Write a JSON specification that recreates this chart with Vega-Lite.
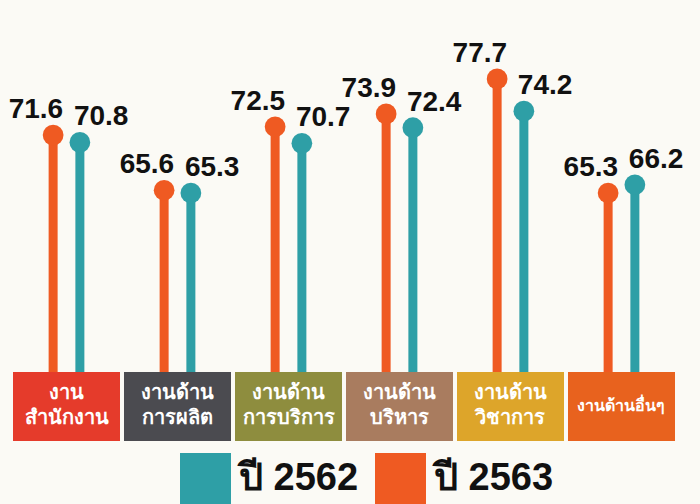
{
  "$schema": "https://vega.github.io/schema/vega-lite/v6.json",
  "width": 662,
  "height": 441,
  "autosize": {"type": "none"},
  "padding": {"left": 13, "top": 0, "right": 25, "bottom": 63},
  "background": "#FBFAF5",
  "config": {"view": {"stroke": null}},
  "datasets": {
    "scores": [
      {"cat": "งานสำนักงาน", "year": "ปี 2563", "value": 71.6},
      {"cat": "งานสำนักงาน", "year": "ปี 2562", "value": 70.8},
      {"cat": "งานด้านการผลิต", "year": "ปี 2563", "value": 65.6},
      {"cat": "งานด้านการผลิต", "year": "ปี 2562", "value": 65.3},
      {"cat": "งานด้านการบริการ", "year": "ปี 2563", "value": 72.5},
      {"cat": "งานด้านการบริการ", "year": "ปี 2562", "value": 70.7},
      {"cat": "งานด้านบริหาร", "year": "ปี 2563", "value": 73.9},
      {"cat": "งานด้านบริหาร", "year": "ปี 2562", "value": 72.4},
      {"cat": "งานด้านวิชาการ", "year": "ปี 2563", "value": 77.7},
      {"cat": "งานด้านวิชาการ", "year": "ปี 2562", "value": 74.2},
      {"cat": "งานด้านอื่นๆ", "year": "ปี 2563", "value": 65.3},
      {"cat": "งานด้านอื่นๆ", "year": "ปี 2562", "value": 66.2}
    ],
    "cats": [
      {"cat": "งานสำนักงาน", "label": "งาน\nสำนักงาน"},
      {"cat": "งานด้านการผลิต", "label": "งานด้าน\nการผลิต"},
      {"cat": "งานด้านการบริการ", "label": "งานด้าน\nการบริการ"},
      {"cat": "งานด้านบริหาร", "label": "งานด้าน\nบริหาร"},
      {"cat": "งานด้านวิชาการ", "label": "งานด้าน\nวิชาการ"},
      {"cat": "งานด้านอื่นๆ", "label": "งานด้านอื่นๆ"}
    ]
  },
  "encoding": {
    "x": {
      "field": "cat",
      "type": "nominal",
      "axis": null,
      "scale": {
        "domain": ["งานสำนักงาน", "งานด้านการผลิต", "งานด้านการบริการ", "งานด้านบริหาร", "งานด้านวิชาการ", "งานด้านอื่นๆ"],
        "paddingInner": 0.036,
        "paddingOuter": 0
      }
    }
  },
  "layer": [
    {
      "data": {"name": "scores"},
      "mark": {"type": "rule", "strokeWidth": 9},
      "encoding": {
        "xOffset": {"field": "year", "type": "nominal", "scale": {"domain": ["ปี 2563", "ปี 2562"], "paddingOuter": 1.058, "paddingInner": 0}},
        "y": {"field": "value", "type": "quantitative", "axis": null, "scale": {"domain": [38.35, 86.28], "zero": false, "nice": false}},
        "y2": {"datum": 40},
        "color": {
          "field": "year",
          "type": "nominal",
          "scale": {"domain": ["ปี 2562", "ปี 2563"], "range": ["#2E9FA6", "#EF5A22"]},
          "legend": {
            "orient": "none",
            "legendX": 167,
            "legendY": 453,
            "direction": "horizontal",
            "title": null,
            "padding": 0,
            "symbolType": "square",
            "symbolSize": 2600,
            "symbolStrokeWidth": 0,
            "symbolOpacity": 1,
            "labelFont": "Liberation Sans",
            "labelFontWeight": "bold",
            "labelFontSize": 38,
            "labelColor": "#111111",
            "labelOffset": 8,
            "columnPadding": 16,
            "labelLimit": 300
          }
        }
      }
    },
    {
      "data": {"name": "scores"},
      "mark": {"type": "point", "filled": true, "shape": "circle", "size": 430, "opacity": 1},
      "encoding": {
        "xOffset": {"field": "year", "type": "nominal", "scale": {"domain": ["ปี 2563", "ปี 2562"], "paddingOuter": 1.058, "paddingInner": 0}},
        "y": {"field": "value", "type": "quantitative"},
        "color": {
          "field": "year",
          "type": "nominal",
          "legend": {
            "orient": "none",
            "legendX": 167,
            "legendY": 453,
            "direction": "horizontal",
            "title": null,
            "padding": 0,
            "symbolType": "square",
            "symbolSize": 2600,
            "symbolStrokeWidth": 0,
            "symbolOpacity": 1,
            "labelFont": "Liberation Sans",
            "labelFontWeight": "bold",
            "labelFontSize": 38,
            "labelColor": "#111111",
            "labelOffset": 8,
            "columnPadding": 16,
            "labelLimit": 300
          }
        }
      }
    },
    {
      "data": {"name": "scores"},
      "transform": [{"filter": "datum.year === 'ปี 2563'"}],
      "mark": {"type": "text", "align": "right", "baseline": "alphabetic", "dx": 10, "dy": -17, "font": "Liberation Sans", "fontWeight": "bold", "fontSize": 28, "color": "#111111"},
      "encoding": {
        "xOffset": {"field": "year", "type": "nominal", "scale": {"domain": ["ปี 2563", "ปี 2562"], "paddingOuter": 1.058, "paddingInner": 0}},
        "y": {"field": "value", "type": "quantitative"},
        "text": {"field": "value", "type": "quantitative", "format": ".1f"}
      }
    },
    {
      "data": {"name": "scores"},
      "transform": [{"filter": "datum.year === 'ปี 2562'"}],
      "mark": {"type": "text", "align": "left", "baseline": "alphabetic", "dx": -6, "dy": -17, "font": "Liberation Sans", "fontWeight": "bold", "fontSize": 28, "color": "#111111"},
      "encoding": {
        "xOffset": {"field": "year", "type": "nominal", "scale": {"domain": ["ปี 2563", "ปี 2562"], "paddingOuter": 1.058, "paddingInner": 0}},
        "y": {"field": "value", "type": "quantitative"},
        "text": {"field": "value", "type": "quantitative", "format": ".1f"}
      }
    },
    {
      "data": {"name": "cats"},
      "mark": {"type": "rect"},
      "encoding": {
        "y": {"datum": 38.35},
        "y2": {"datum": 45.85},
        "fill": {
          "field": "cat",
          "type": "nominal",
          "legend": null,
          "scale": {
            "domain": ["งานสำนักงาน", "งานด้านการผลิต", "งานด้านการบริการ", "งานด้านบริหาร", "งานด้านวิชาการ", "งานด้านอื่นๆ"],
            "range": ["#E53B2B", "#4B4B50", "#8E8D3E", "#A97C5F", "#DDA52A", "#E8621E"]
          }
        }
      }
    },
    {
      "data": {"name": "cats"},
      "transform": [{"filter": "datum.cat !== 'งานด้านอื่นๆ'"}],
      "mark": {"type": "text", "lineBreak": "\n", "baseline": "middle", "align": "center", "font": "Noto Sans", "fontWeight": "bold", "fontSize": 20, "color": "#FFFFFF", "lineHeight": 25},
      "encoding": {
        "y": {"datum": 43.6},
        "text": {"field": "label"}
      }
    },
    {
      "data": {"name": "cats"},
      "transform": [{"filter": "datum.cat === 'งานด้านอื่นๆ'"}],
      "mark": {"type": "text", "baseline": "middle", "align": "center", "font": "Noto Sans", "fontWeight": "bold", "fontSize": 16, "color": "#FFFFFF"},
      "encoding": {
        "y": {"datum": 42.1},
        "text": {"field": "label"}
      }
    }
  ]
}
